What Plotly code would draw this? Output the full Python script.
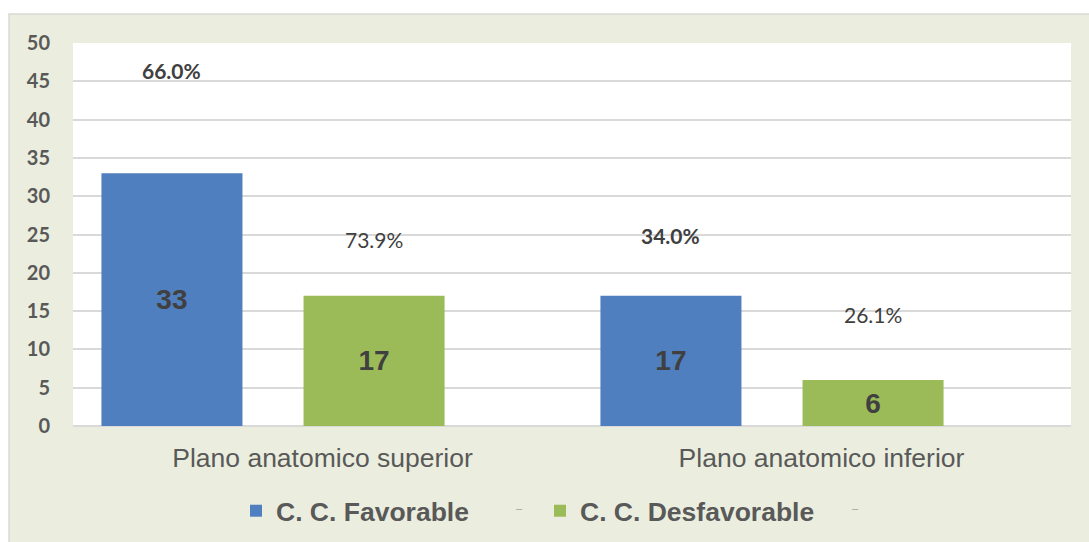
import plotly.graph_objects as go

categories = ["Plano anatomico superior", "Plano anatomico inferior"]
series_names = ["C. C. Favorable", "C. C. Desfavorable"]
favorable = [33, 17]
desfavorable = [17, 6]
pct_favorable = ["66.0%", "34.0%"]
pct_desfavorable = ["73.9%", "26.1%"]
# heights (axis units) at which the percentage labels sit
pct_fav_label_y = [46.4, 24.9]
pct_des_label_y = [24.3, 14.5]
y_ticks = [0, 5, 10, 15, 20, 25, 30, 35, 40, 45, 50]

BLUE = "#4F7FBE"
GREEN = "#9BBB59"
BAR_W = 0.2826
OFF_FAV = -0.443
OFF_DES = -0.038

W, H = 1089, 542
ML, MR, MT, MB = 73, 18, 43, 116
PW, PH = W - ML - MR, H - MT - MB

fig = go.Figure()
fig.add_trace(go.Bar(
    x=categories, y=favorable, name=series_names[0],
    marker=dict(color=BLUE, line=dict(width=0)),
    width=BAR_W, offset=OFF_FAV,
    text=[str(v) for v in favorable], textposition="inside",
    insidetextanchor="middle",
    textfont=dict(family="Liberation Sans, Arial", size=28, color="#404040", weight="bold"),
))
fig.add_trace(go.Bar(
    x=categories, y=desfavorable, name=series_names[1],
    marker=dict(color=GREEN, line=dict(width=0)),
    width=BAR_W, offset=OFF_DES,
    text=[str(v) for v in desfavorable], textposition="inside",
    insidetextanchor="middle",
    textfont=dict(family="Liberation Sans, Arial", size=28, color="#404040", weight="bold"),
))

annotations = []
for i in range(len(categories)):
    annotations.append(dict(
        x=i + OFF_FAV + BAR_W / 2, y=pct_fav_label_y[i], xref="x", yref="y",
        text="<b>%s</b>" % pct_favorable[i], showarrow=False,
        font=dict(family="Lato", size=21, color="#404040"),
    ))
    annotations.append(dict(
        x=i + OFF_DES + BAR_W / 2, y=pct_des_label_y[i], xref="x", yref="y",
        text=pct_desfavorable[i], showarrow=False,
        font=dict(family="Lato", size=21, color="#404040"),
    ))
# small dashes in legend (empty series entries)
for px in [519, 861]:
    annotations.append(dict(
        x=(px - ML) / PW, y=(H - MB - 511) / PH, xref="paper", yref="paper",
        text="–", showarrow=False, yshift=-5,
        font=dict(family="Liberation Sans", size=11, color="#A0A0A0"),
    ))

shapes = [
    dict(type="rect", xref="paper", yref="paper", layer="below",
         x0=(9 - ML) / PW, x1=(W + 2 - ML) / PW,
         y0=(H - MB - (H + 2)) / PH, y1=(H - MB - 14) / PH,
         fillcolor="#EBEEDE", line=dict(color="#D9D9D9", width=1.5)),
    dict(type="rect", xref="paper", yref="paper", layer="below",
         x0=0, x1=1, y0=0, y1=1, fillcolor="white", line=dict(width=0)),
]

fig.update_layout(
    width=W, height=H,
    margin=dict(l=ML, r=MR, t=MT, b=MB, pad=0, autoexpand=False),
    paper_bgcolor="white", plot_bgcolor="white",
    barmode="overlay",
    showlegend=True,
    legend=dict(orientation="h", x=(236 - ML) / PW, xanchor="left",
                y=(H - MB - 511) / PH, yanchor="middle",
                font=dict(family="Liberation Sans, Arial", size=26.5, color="#595959", weight="bold"),
                bgcolor="rgba(0,0,0,0)", itemsizing="constant",
                entrywidth=259, entrywidthmode="pixels"),
    xaxis=dict(showgrid=False, showline=False, zeroline=False, ticks="", automargin=False,
               tickfont=dict(family="Liberation Sans, Arial", size=26.5, color="#595959"),
               range=[-0.5, 1.5], fixedrange=True, ticklabelstandoff=13),
    yaxis=dict(range=[0, 50], tickvals=y_ticks, showgrid=True, gridcolor="#D9D9D9", gridwidth=1.5,
               zeroline=True, zerolinecolor="#D9D9D9", zerolinewidth=1.5, showline=False,
               ticks="", ticklabelstandoff=22, automargin=False,
               tickfont=dict(family="Lato", size=20, color="#595959", weight="bold")),
    annotations=annotations,
    shapes=shapes,
)

fig.write_html("out.html")
